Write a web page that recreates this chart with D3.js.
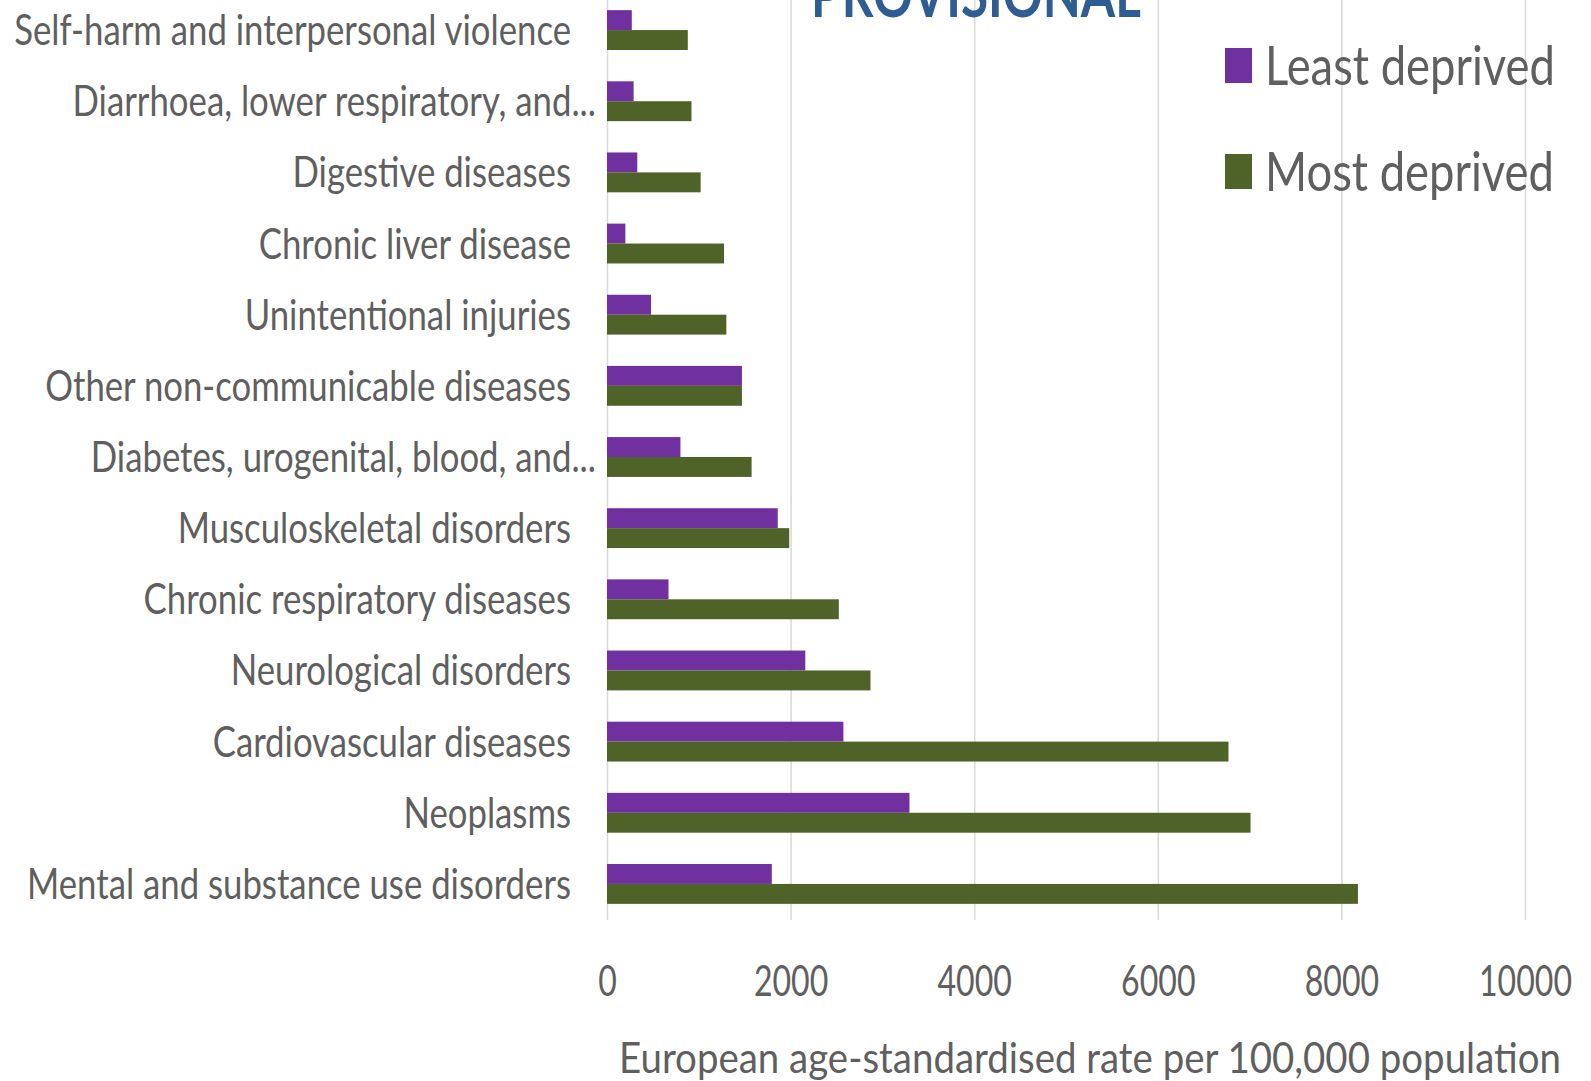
<!DOCTYPE html>
<html>
<head>
<meta charset="utf-8">
<script src="https://cdn.jsdelivr.net/npm/d3@7"></script>
<style>
  body { margin: 0; background: #fff; }
  svg { display: block; }
</style>
</head>
<body>
<svg id="chart" width="1591" height="1081"></svg>
<script>
// categories top to bottom, as in the picture
const categories = [
  "Self-harm and interpersonal violence",
  "Diarrhoea, lower respiratory, and...",
  "Digestive diseases",
  "Chronic liver disease",
  "Unintentional injuries",
  "Other non-communicable diseases",
  "Diabetes, urogenital, blood, and...",
  "Musculoskeletal disorders",
  "Chronic respiratory diseases",
  "Neurological disorders",
  "Cardiovascular diseases",
  "Neoplasms",
  "Mental and substance use disorders"
];
const leastDeprived = [270, 290, 330, 200, 480, 1470, 800, 1860, 670, 2160, 2575, 3295, 1795];
const mostDeprived = [880, 920, 1020, 1275, 1300, 1470, 1575, 1985, 2525, 2870, 6770, 7010, 8180];
const seriesNames = ["Least deprived", "Most deprived"];
const seriesColors = ["#7030a0", "#4f6228"];
const xTicks = [0, 2000, 4000, 6000, 8000, 10000];
const chartTitle = "PROVISIONAL";
const axisTitle = "European age-standardised rate per 100,000 population";

const svg = d3.select("#chart");
const font = "Lato, 'Open Sans', sans-serif";
const textGrey = "#5f5f5f";
const textWeight = 400;

let x = d3.scaleLinear().domain([0, 10000]).range([607, 1525]);
let y = d3
  .scaleBand()
  .domain(categories)
  .range([-5.5, 919.5])
  .paddingInner(0.44)
  .paddingOuter(0.22);
let sub = d3.scaleBand().domain(seriesNames).range([0, y.bandwidth()]);

// width of a string in the chosen font, used to squeeze text to the picture's narrow look
function measure(str, size, weight) {
  const t = svg
    .append("text")
    .attr("font-family", font)
    .attr("font-size", size)
    .attr("font-weight", weight || textWeight)
    .text(str);
  const w = t.node().getComputedTextLength();
  t.remove();
  return w;
}

function draw() {
  // gridlines
  svg
    .append("g")
    .attr("transform", "translate(0,920)")
    .call(d3.axisBottom(x).tickValues(xTicks).tickSize(-925).tickFormat(""))
    .call(g => g.select(".domain").remove())
    .call(g => g.selectAll("line").attr("stroke", "#d9d9d9").attr("stroke-width", 1.5));

  // bars
  const rows = categories.map((c, i) => ({
    cat: c,
    values: [leastDeprived[i], mostDeprived[i]]
  }));
  const groups = svg
    .selectAll(".row")
    .data(rows)
    .enter()
    .append("g")
    .attr("class", "row")
    .attr("transform", d => "translate(0," + y(d.cat) + ")");
  groups
    .selectAll("rect")
    .data(d => d.values.map((v, j) => ({ v: v, s: seriesNames[j], c: seriesColors[j] })))
    .enter()
    .append("rect")
    .attr("x", x(0))
    .attr("y", d => sub(d.s))
    .attr("width", d => x(d.v) - x(0))
    .attr("height", sub.bandwidth())
    .attr("fill", d => d.c);

  // category labels
  const labelSize = 42;
  const labelSx = 557 / measure(categories[0], labelSize);
  svg
    .selectAll(".cat")
    .data(categories)
    .enter()
    .append("text")
    .attr("class", "cat")
    .attr("font-family", font)
    .attr("font-size", labelSize)
    .attr("font-weight", textWeight)
    .attr("fill", textGrey)
    .attr("text-anchor", "end")
    .attr("transform", d => {
      const xe = d.endsWith("...") ? 596 : 571;
      return "translate(" + xe + "," + (y(d) + y.bandwidth() / 2 + 15) + ") scale(" + labelSx + ",1)";
    })
    .text(d => d);

  // x tick labels
  const tickSx = 93 / measure("10000", labelSize);
  const ax = svg
    .append("g")
    .attr("transform", "translate(0,996)")
    .call(d3.axisBottom(x).tickValues(xTicks).tickSize(0).tickFormat(d3.format("d")));
  ax.select(".domain").remove();
  ax.selectAll("text")
    .attr("y", 0)
    .attr("dy", null)
    .attr("font-family", font)
    .attr("font-size", labelSize)
    .attr("font-weight", textWeight)
    .attr("fill", textGrey)
    .attr("transform", "scale(" + tickSx + ",1)");

  // axis title
  const titleSx = 942 / measure(axisTitle, labelSize);
  svg
    .append("text")
    .attr("font-family", font)
    .attr("font-size", labelSize)
    .attr("font-weight", textWeight)
    .attr("fill", textGrey)
    .attr("text-anchor", "middle")
    .attr("transform", "translate(1090,1073) scale(" + titleSx + ",1)")
    .text(axisTitle);

  // chart title, cut off at the top like in the picture
  const headSize = 64;
  const headSx = 330 / measure(chartTitle, headSize, 700);
  svg
    .append("text")
    .attr("font-family", font)
    .attr("font-size", headSize)
    .attr("font-weight", 700)
    .attr("fill", "#2e5d94")
    .attr("text-anchor", "middle")
    .attr("transform", "translate(976,17) scale(" + headSx + ",1)")
    .text(chartTitle);

  // legend
  const legSize = 54;
  const legSx = 290 / measure(seriesNames[0], legSize);
  const leg = svg
    .selectAll(".leg")
    .data(seriesNames)
    .enter()
    .append("g")
    .attr("class", "leg")
    .attr("transform", (d, i) => "translate(1225," + (48 + i * 106) + ")");
  leg
    .append("rect")
    .attr("width", 27)
    .attr("height", 35)
    .attr("fill", (d, i) => seriesColors[i]);
  leg
    .append("text")
    .attr("font-family", font)
    .attr("font-size", legSize)
    .attr("font-weight", textWeight)
    .attr("fill", textGrey)
    .attr("transform", "translate(40,37) scale(" + legSx + ",1)")
    .text(d => d);
}

document.fonts.ready.then(draw);
</script>
</body>
</html>
